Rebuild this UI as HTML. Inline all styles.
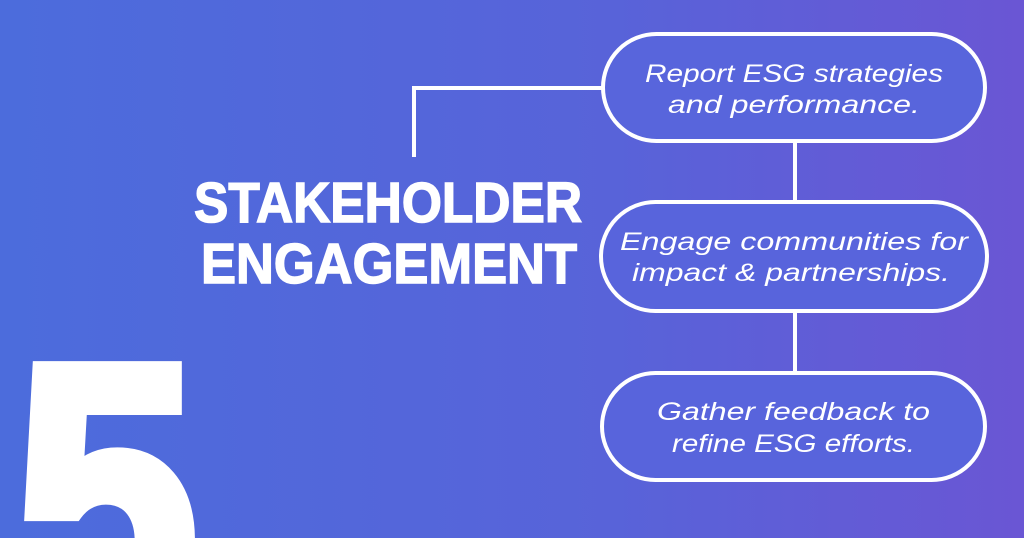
<!DOCTYPE html>
<html><head><meta charset="utf-8"><style>
html,body{margin:0;padding:0;width:1024px;height:538px;overflow:hidden}
svg{display:block}
</style></head><body>
<svg width="1024" height="538" viewBox="0 0 1024 538" xmlns="http://www.w3.org/2000/svg">
<defs>
<linearGradient id="bg" x1="0" y1="0" x2="1" y2="0">
<stop offset="0" stop-color="#4c6cdc"/>
<stop offset="0.6" stop-color="#5863d9"/>
<stop offset="1" stop-color="#6a56d4"/>
</linearGradient>
<clipPath id="c"><rect width="1024" height="538"/></clipPath>
</defs>
<rect width="1024" height="538" fill="url(#bg)"/>
<g clip-path="url(#c)">
<text x="15" y="625" font-family="Liberation Sans, sans-serif" font-weight="bold" font-size="372" fill="#fff" stroke="#fff" stroke-width="16" stroke-linejoin="miter" textLength="182" lengthAdjust="spacingAndGlyphs">5</text>
</g>
<g fill="none" stroke="#fff" stroke-width="4">
<polyline points="604,88 414,88 414,157"/>
<line x1="795" y1="141" x2="795" y2="202"/>
<line x1="795" y1="311" x2="795" y2="373"/>
<rect x="603" y="34" width="382" height="107" rx="53.5" fill="#5865dc"/>
<rect x="601" y="202" width="386" height="109" rx="54.5" fill="#5864dc"/>
<rect x="602" y="373" width="383" height="107" rx="53.5" fill="#5864dc"/>
</g>
<g font-family="Liberation Sans, sans-serif" font-weight="bold" font-size="57" fill="#fff" stroke="#fff" stroke-width="1.5">
<text x="194" y="222" textLength="388" lengthAdjust="spacingAndGlyphs">STAKEHOLDER</text>
<text x="201" y="283" textLength="376" lengthAdjust="spacingAndGlyphs">ENGAGEMENT</text>
</g>
<g font-family="Liberation Sans, sans-serif" font-style="italic" font-size="25" fill="#fff">
<text x="645" y="82" textLength="298" lengthAdjust="spacingAndGlyphs">Report ESG strategies</text>
<text x="668" y="113" textLength="252" lengthAdjust="spacingAndGlyphs">and performance.</text>
<text x="620" y="250" textLength="348" lengthAdjust="spacingAndGlyphs">Engage communities for</text>
<text x="632" y="281" textLength="318" lengthAdjust="spacingAndGlyphs">impact &amp; partnerships.</text>
<text x="657" y="420" textLength="273" lengthAdjust="spacingAndGlyphs">Gather feedback to</text>
<text x="672" y="452" textLength="243" lengthAdjust="spacingAndGlyphs">refine ESG efforts.</text>
</g>
</svg>
</body></html>
